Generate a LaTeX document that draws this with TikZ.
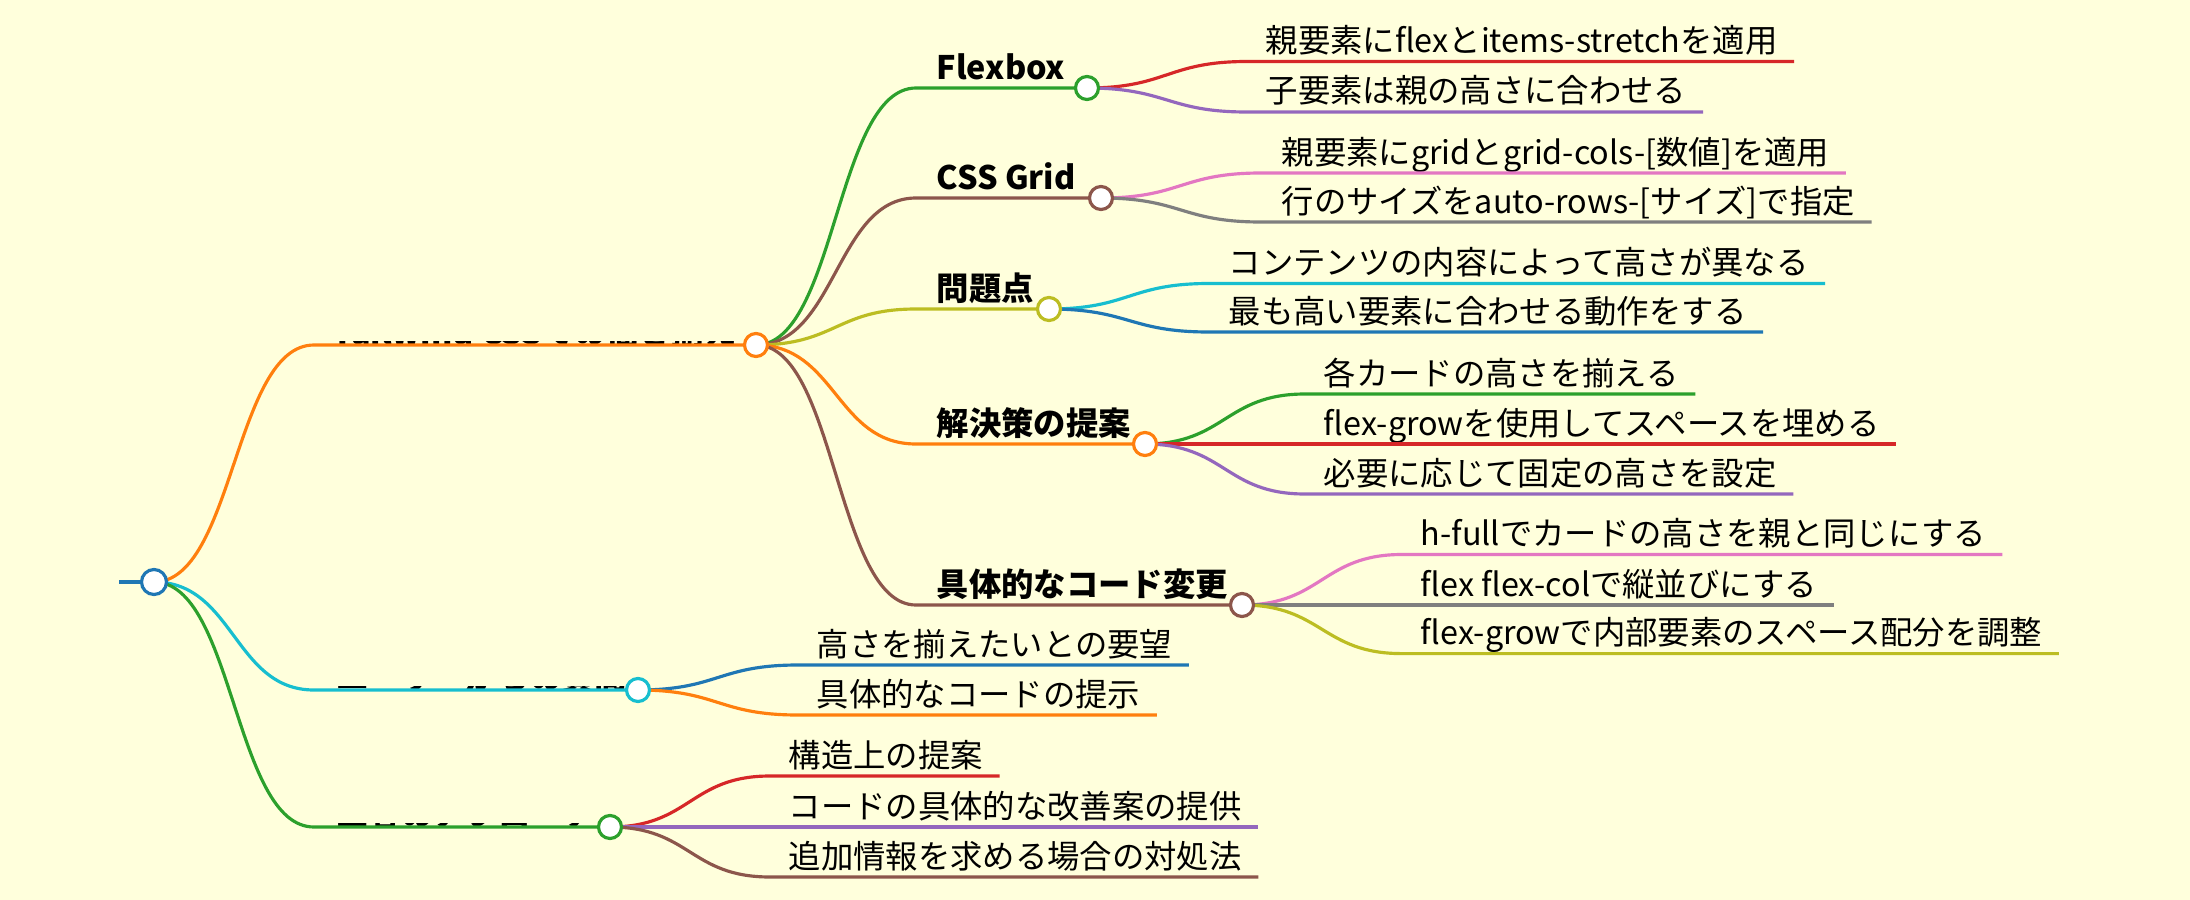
\documentclass[tikz,border=0pt]{standalone}
\usepackage{fontspec}
\setmainfont{Noto Sans CJK JP}
\usetikzlibrary{calc}
\definecolor{bgy}{HTML}{FFFFDC}
\definecolor{cblue}{HTML}{1F77B4}
\definecolor{corange}{HTML}{FF7F0E}
\definecolor{cgreen}{HTML}{2CA02C}
\definecolor{cred}{HTML}{D62728}
\definecolor{cpurple}{HTML}{9467BD}
\definecolor{cbrown}{HTML}{8C564B}
\definecolor{cpink}{HTML}{E377C2}
\definecolor{cgray}{HTML}{7F7F7F}
\definecolor{colive}{HTML}{BCBD22}
\definecolor{ccyan}{HTML}{17BECF}

\begin{document}
\begin{tikzpicture}[x=0.01cm,y=-0.01cm,
  font=\fontsize{9.2pt}{11pt}\selectfont,
  br/.style={line width=0.9pt},
  dot/.style={circle,draw=#1,fill=white,line width=0.9pt,minimum size=0.23cm,inner sep=0pt},
  lf/.style={anchor=base west,inner sep=0pt},
  hd/.style={lf,font=\fontsize{9.2pt}{11pt}\selectfont\bfseries},
  cv/.style={to path={.. controls +(80,0) and +(-80,0) .. (\tikztotarget)}}]
\fill[bgy] (0,0) rectangle (2190,900);
\useasboundingbox (0,0) rectangle (2190,900);
% circle centres
\coordinate (st) at (119,582); \coordinate (r) at (154,582);
\coordinate (a) at (756,345); \coordinate (b) at (638,690); \coordinate (c) at (610,827);
\coordinate (fb) at (1087,88); \coordinate (gr) at (1101,198); \coordinate (pb) at (1049,309);
\coordinate (sl) at (1145,444); \coordinate (cd) at (1242,605);
% level 1
\draw[cblue,line width=1.4pt] (st)--(r);
\coordinate (as) at (314,345); \coordinate (bs) at (314,690); \coordinate (cs) at (314,827);
\begin{scope}
  \clip (300,341) rectangle (760,345);
  \node[hd] (ta) at ($(as)+(18,-1)$) {Tailwind CSSでの高さ揃え};
\end{scope}
\begin{scope}
  \clip (300,686) rectangle (640,690);
  \node[hd] (tb) at ($(bs)+(22,-1)$) {ユーザーからの質問};
\end{scope}
\begin{scope}
  \clip (300,823) rectangle (610,827);
  \node[hd] (tc) at ($(cs)+(22,-1)$) {回答のアプローチ};
\end{scope}
\draw[br,corange] (r) to[cv] (as)--(a);
\draw[br,ccyan] (r) to[cv] (bs)--(b);
\draw[br,cgreen] (r) to[cv] (cs)--(c);
% level 2
\coordinate (fbs) at (916,88); \coordinate (grs) at (916,198); \coordinate (pbs) at (916,309);
\coordinate (sls) at (916,444); \coordinate (cds) at (916,605);
\node[hd] (tfb) at ($(fbs)+(20,-9)$) {Flexbox};
\node[hd] (tgr) at ($(grs)+(20,-9)$) {CSS Grid};
\node[hd] (tpb) at ($(pbs)+(20,-9)$) {問題点};
\node[hd] (tsl) at ($(sls)+(20,-9)$) {解決策の提案};
\node[hd] (tcd) at ($(cds)+(20,-9)$) {具体的なコード変更};
\draw[br,cgreen] (a) to[cv] (fbs)--(fb);
\draw[br,cbrown] (a) to[cv] (grs)--(gr);
\draw[br,colive] (a) to[cv] (pbs)--(pb);
\draw[br,corange] (a) to[cv] (sls)--(sl);
\draw[br,cbrown] (a) to[cv] (cds)--(cd);
% leaves
\coordinate (f1) at (1247,61.5); \coordinate (f2) at (1247,112);
\node[lf] (tf1) at ($(f1)+(18,-9)$) {親要素にflexとitems-stretchを適用};
\node[lf] (tf2) at ($(f2)+(18,-9)$) {子要素は親の高さに合わせる};
\draw[br,cred] (fb) to[cv] (f1)--($(f1-|tf1.east)+(16,0)$);
\draw[br,cpurple] (fb) to[cv] (f2)--($(f2-|tf2.east)+(16,0)$);
\coordinate (g1) at (1261,173); \coordinate (g2) at (1261,222);
\node[lf] (tg1) at ($(g1)+(20,-9)$) {親要素にgridとgrid-cols-[数値]を適用};
\node[lf] (tg2) at ($(g2)+(20,-9)$) {行のサイズをauto-rows-[サイズ]で指定};
\draw[br,cpink] (gr) to[cv] (g1)--($(g1-|tg1.east)+(16,0)$);
\draw[br,cgray] (gr) to[cv] (g2)--($(g2-|tg2.east)+(16,0)$);
\coordinate (p1) at (1209,283.5); \coordinate (p2) at (1209,332);
\node[lf] (tp1) at ($(p1)+(19,-9)$) {コンテンツの内容によって高さが異なる};
\node[lf] (tp2) at ($(p2)+(19,-9)$) {最も高い要素に合わせる動作をする};
\draw[br,ccyan] (pb) to[cv] (p1)--($(p1-|tp1.east)+(16,0)$);
\draw[br,cblue] (pb) to[cv] (p2)--($(p2-|tp2.east)+(16,0)$);
\coordinate (s1) at (1305,394); \coordinate (s2) at (1305,444); \coordinate (s3) at (1305,494);
\node[lf] (ts1) at ($(s1)+(18,-9)$) {各カードの高さを揃える};
\node[lf] (ts2) at ($(s2)+(18,-9)$) {flex-growを使用してスペースを埋める};
\node[lf] (ts3) at ($(s3)+(18,-9)$) {必要に応じて固定の高さを設定};
\draw[br,cgreen] (sl) to[cv] (s1)--($(s1-|ts1.east)+(16,0)$);
\draw[br,cred] (sl) to[cv] (s2)--($(s2-|ts2.east)+(16,0)$);
\draw[br,cpurple] (sl) to[cv] (s3)--($(s3-|ts3.east)+(16,0)$);
\coordinate (k1) at (1402,554.5); \coordinate (k2) at (1402,605); \coordinate (k3) at (1402,653.6);
\node[lf] (tk1) at ($(k1)+(18,-9)$) {h-fullでカードの高さを親と同じにする};
\node[lf] (tk2) at ($(k2)+(18,-9)$) {flex flex-colで縦並びにする};
\node[lf] (tk3) at ($(k3)+(18,-9)$) {flex-growで内部要素のスペース配分を調整};
\draw[br,cpink] (cd) to[cv] (k1)--($(k1-|tk1.east)+(16,0)$);
\draw[br,cgray] (cd) to[cv] (k2)--($(k2-|tk2.east)+(16,0)$);
\draw[br,colive] (cd) to[cv] (k3)--($(k3-|tk3.east)+(16,0)$);
\coordinate (u1) at (798,665); \coordinate (u2) at (798,715);
\node[lf] (tu1) at ($(u1)+(18,-9)$) {高さを揃えたいとの要望};
\node[lf] (tu2) at ($(u2)+(18,-9)$) {具体的なコードの提示};
\draw[br,cblue] (b) to[cv] (u1)--($(u1-|tu1.east)+(16,0)$);
\draw[br,corange] (b) to[cv] (u2)--($(u2-|tu2.east)+(16,0)$);
\coordinate (v1) at (770,776); \coordinate (v2) at (770,827); \coordinate (v3) at (770,877);
\node[lf] (tv1) at ($(v1)+(18,-9)$) {構造上の提案};
\node[lf] (tv2) at ($(v2)+(18,-9)$) {コードの具体的な改善案の提供};
\node[lf] (tv3) at ($(v3)+(18,-9)$) {追加情報を求める場合の対処法};
\draw[br,cred] (c) to[cv] (v1)--($(v1-|tv1.east)+(16,0)$);
\draw[br,cpurple] (c) to[cv] (v2)--($(v2-|tv2.east)+(16,0)$);
\draw[br,cbrown] (c) to[cv] (v3)--($(v3-|tv3.east)+(16,0)$);
% circles
\node[dot=cblue,minimum size=0.25cm] (rd) at (r) {};
\node[dot=corange] (ad) at (a) {};
\node[dot=ccyan] (bd) at (b) {};
\node[dot=cgreen] (cdd) at (c) {};
\node[dot=cgreen] (fbd) at (fb) {};
\node[dot=cbrown] (grd) at (gr) {};
\node[dot=colive] (pbd) at (pb) {};
\node[dot=corange] (sld) at (sl) {};
\node[dot=cbrown] (cdk) at (cd) {};
\end{tikzpicture}
\end{document}
